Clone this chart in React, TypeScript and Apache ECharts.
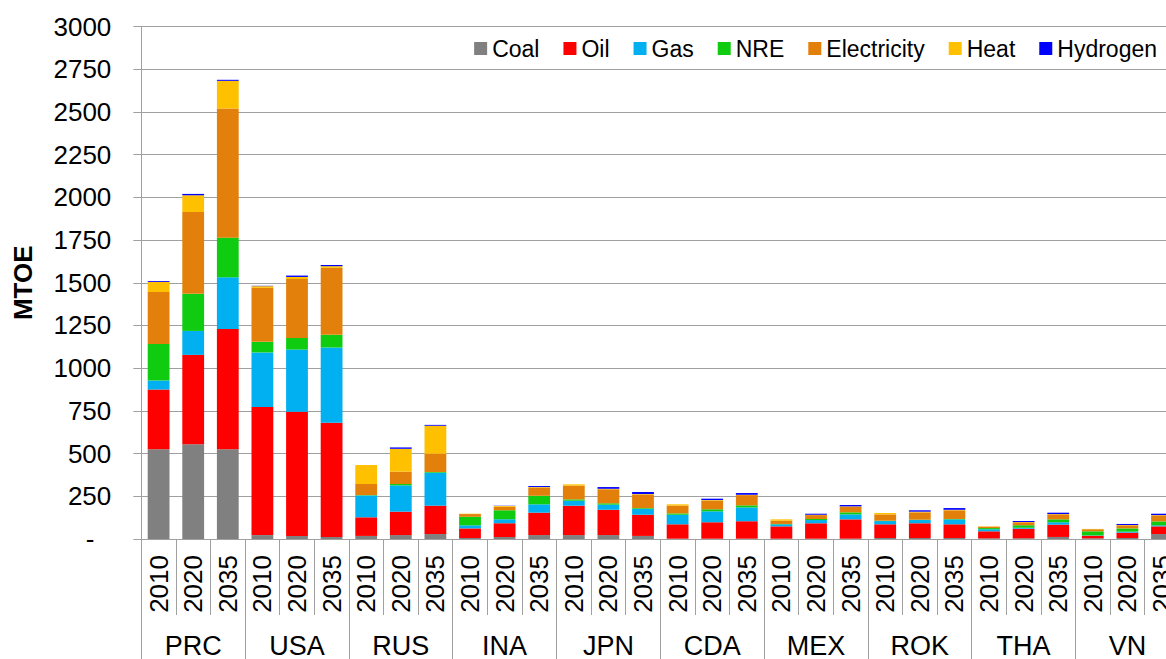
import React, { useEffect, useRef } from "react";
import * as echarts from "echarts";

const countries = ["PRC", "USA", "RUS", "INA", "JPN", "CDA", "MEX", "ROK", "THA", "VN"];
const years = ["2010", "2020", "2035"];
const yTicks = [0, 250, 500, 750, 1000, 1250, 1500, 1750, 2000, 2250, 2500, 2750, 3000];

const coal = [525, 554, 525, 23, 18, 12, 18, 23, 29, 6, 12, 23, 23, 23, 18, 2, 2, 2, 2, 2, 2, 6, 6, 6, 4, 4, 12, 4, 6, 29];
const oil = [350, 524, 705, 749, 727, 668, 109, 137, 166, 56, 80, 131, 172, 148, 124, 84, 96, 102, 72, 90, 113, 80, 86, 80, 41, 56, 72, 15, 31, 45];
const gas = [53, 140, 302, 320, 364, 441, 128, 154, 193, 18, 23, 49, 29, 30, 35, 56, 64, 81, 12, 19, 29, 19, 19, 29, 12, 6, 14, 2, 6, 6];
const nre = [214, 217, 232, 62, 68, 74, 2, 8, 4, 50, 53, 50, 8, 8, 4, 8, 12, 12, 2, 6, 12, 2, 2, 2, 7, 14, 17, 24, 19, 23];
const electricity = [304, 479, 756, 316, 345, 392, 65, 72, 107, 16, 21, 47, 80, 82, 78, 45, 50, 60, 19, 23, 33, 37, 43, 51, 8, 18, 29, 12, 18, 35];
const heat = [59, 98, 162, 10, 12, 10, 111, 134, 164, 2, 4, 4, 8, 3, 4, 8, 4, 2, 8, 2, 2, 8, 4, 3, 2, 1, 2, 2, 2, 2];
const hydrogen = [5, 8, 6, 2, 8, 7, 0, 8, 5, 0, 2, 6, 0, 10, 12, 0, 8, 10, 0, 6, 8, 0, 8, 10, 0, 6, 8, 0, 6, 8];

const seriesDefs = [
  { name: "Coal", data: coal, color: "#808080" },
  { name: "Oil", data: oil, color: "#FF0000" },
  { name: "Gas", data: gas, color: "#00B0F0" },
  { name: "NRE", data: nre, color: "#10CC10" },
  { name: "Electricity", data: electricity, color: "#E3800B" },
  { name: "Heat", data: heat, color: "#FFC000" },
  { name: "Hydrogen", data: hydrogen, color: "#0000FF" },
];

const FONT = "'Liberation Sans', Arial, sans-serif";
const GRAY = "#a0a0a0";

export default function App() {
  const ref = useRef<HTMLDivElement>(null);
  useEffect(() => {
    if (!ref.current) return;
    const chart = echarts.init(ref.current, null, { renderer: "svg" });
    const yearCats: string[] = [];
    countries.forEach(() => years.forEach((y) => yearCats.push(y)));
    chart.setOption({
      animation: false,
      textStyle: { fontFamily: FONT, color: "#000" },
      legend: {
        right: 4,
        top: 32,
        icon: "rect",
        itemWidth: 13,
        itemHeight: 13,
        itemGap: 24,
        textStyle: { fontSize: 23, fontFamily: FONT, color: "#000" },
        data: seriesDefs.map((s) => s.name),
      },
      grid: { left: 141.3, top: 26.5, width: 1038, height: 512.5, outerBoundsMode: "none", containLabel: false },
      xAxis: [
        {
          type: "category",
          data: yearCats,
          position: "bottom",
          axisLine: { show: true, lineStyle: { color: GRAY, width: 1 } },
          axisTick: { show: true, interval: 0, length: 76, lineStyle: { color: GRAY, width: 1 } },
          axisLabel: { interval: 0, rotate: 90, margin: 16, fontSize: 26, fontFamily: FONT, color: "#000" },
        },
        {
          type: "category",
          data: countries,
          position: "bottom",
          axisLine: { show: false },
          axisTick: { show: true, interval: 0, length: 130, lineStyle: { color: GRAY, width: 1 } },
          axisLabel: { interval: 0, margin: 93, fontSize: 27, fontFamily: FONT, color: "#000" },
        },
      ],
      yAxis: {
        type: "value",
        min: 0,
        max: 3000,
        interval: 250,
        name: "MTOE",
        nameLocation: "middle",
        nameRotate: 90,
        nameGap: 105,
        nameTextStyle: { fontSize: 26, fontWeight: "bold", fontFamily: FONT, color: "#000" },
        axisLine: { show: true, lineStyle: { color: GRAY, width: 1 } },
        axisTick: { show: true, length: 8, lineStyle: { color: GRAY, width: 1 } },
        splitLine: { show: true, lineStyle: { color: GRAY, width: 1 } },
        axisLabel: {
          margin: 30,
          fontSize: 26,
          fontFamily: FONT,
          color: "#000",
          formatter: (v: number) => (v === 0 ? "{d|-}" : String(v)),
          rich: { d: { fontSize: 26, fontFamily: FONT, color: "#000", padding: [0, 17, 0, 0] } },
        },
      },
      series: seriesDefs.map((s) => ({
        name: s.name,
        type: "bar",
        stack: "total",
        xAxisIndex: 0,
        barCategoryGap: "37%",
        itemStyle: { color: s.color },
        data: s.data,
      })),
    });
    return () => chart.dispose();
  }, []);
  return (
    <div style={{ position: "fixed", left: 0, top: 0, width: 1166, height: 659, overflow: "hidden", background: "#fff" }}>
      <div ref={ref} style={{ width: 1166, height: 659 }} />
    </div>
  );
}
